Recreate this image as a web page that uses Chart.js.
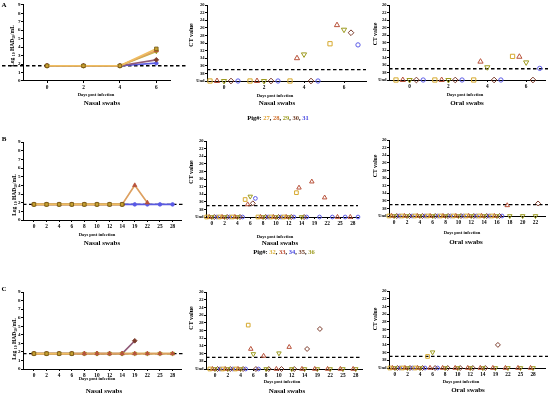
<!DOCTYPE html>
<html><head><meta charset="utf-8">
<script src="https://cdn.jsdelivr.net/npm/chart.js@4.4.1/dist/chart.umd.min.js"></script>
<style>
html,body{margin:0;padding:0;background:#fff;}
#wrap{position:relative;width:550px;height:397px;overflow:hidden;font-family:"Liberation Serif","Times New Roman",serif;}
#wrap canvas{position:absolute;left:0;top:0;}
.t{position:absolute;font-weight:bold;white-space:nowrap;color:#000;transform:translate(-50%,-50%);line-height:1;}
.r{transform:translate(-50%,-50%) rotate(-90deg);}
sub{font-size:70%;vertical-align:-0.25em;}
</style></head><body><div id="wrap"></div>
<script>
// ================= DATA =================
const UND = 40;          // CT "Und" (undetected), plotted at the bottom of the CT axis
const HAD_LOD = 1.8;     // detection limit, log10 HAD50/mL
const CT_CUTOFF = 37;    // CT positivity cut-off

const hadTicks = [0,1,2,3,4,5,6,7,8,9];
const ctTicks  = [20,22,24,26,28,30,32,34,36,38,40];
const ctTickLabels = ['20','22','24','26','28','30','32','34','36','38','Und'];

// ---- Panel A (pigs 27-31) ----
const daysA = [0,2,4,6];
const pigsA = ['27','28','29','30','31'];
const hadA27 = [1.8,1.8,1.8,3.8];
const hadA28 = [1.8,1.8,1.8,3.6];
const hadA29 = [1.8,1.8,1.8,3.5];
const hadA30 = [1.8,1.8,1.8,2.5];
const hadA31 = [1.8,1.8,1.8,2.1];
const ctNasalA27 = [UND,UND,UND,30.2];
const ctNasalA28 = [UND,UND,34.0,25.3];
const ctNasalA29 = [UND,UND,33.0,26.5];
const ctNasalA30 = [UND,UND,UND,27.3];
const ctNasalA31 = [UND,UND,UND,30.5];
const ctOralA27 = [UND,UND,UND,33.7];
const ctOralA28 = [UND,UND,35.1,33.8];
const ctOralA29 = [UND,UND,36.6,35.3];
const ctOralA30 = [UND,UND,UND,UND];
const ctOralA31 = [UND,UND,UND,36.9];

// ---- Panel B (pigs 32-36) ----
const daysB  = ['0','2','4','6','8','10','12','14','19','22','25','28'];
const daysBo = ['0','2','4','6','8','10','12','14','16','18','20','22'];
const pigsB = ['32','33','34','35','36'];
const hadB32 = [1.8,1.8,1.8,1.8,1.8,1.8,1.8,1.8,null,null,null,null];
const hadB33 = [1.8,1.8,1.8,1.8,1.8,1.8,1.8,1.8,4.0,2.0,null,null];
const hadB36 = [1.8,1.8,1.8,1.8,1.8,1.8,1.8,1.8,null,null,null,null];
const hadB35 = [1.8,1.8,1.8,1.8,1.8,1.8,1.8,1.8,null,null,null,null];
const hadB34 = [1.8,1.8,1.8,1.8,1.8,1.8,1.8,1.8,1.8,1.8,1.8,1.8];
const ctNasalB32 = [UND,UND,UND,35.4,UND,UND,UND,33.6,null,null,null,null];
const ctNasalB33 = [UND,UND,UND,36.7,UND,UND,UND,32.3,30.7,34.9,UND,UND];
const ctNasalB36 = [UND,UND,UND,34.6,UND,UND,UND,UND,null,null,null,null];
const ctNasalB35 = [UND,UND,UND,36.4,UND,UND,UND,UND,null,null,null,null];
const ctNasalB34 = [UND,UND,UND,35.1,UND,UND,UND,UND,UND,UND,UND,UND];
const ctOralB32 = [UND,UND,UND,UND,UND,UND,UND,UND,UND,null,null,null];
const ctOralB33 = [UND,UND,UND,UND,UND,UND,UND,UND,UND,37.2,null,null];
const ctOralB36 = [UND,UND,UND,UND,UND,UND,UND,UND,UND,UND,UND,UND];
const ctOralB35 = [UND,UND,UND,UND,UND,UND,UND,UND,UND,null,null,36.7];
const ctOralB34 = [UND,UND,UND,UND,UND,UND,UND,UND,UND,null,null,null];

// ---- Panel C ----
const daysC = ['0','2','4','6','8','10','12','14','19','22','25','28'];
const hadC1 = [1.8,1.8,1.8,1.8,null,null,null,null,null,null,null,null];
const hadC2 = [1.8,1.8,1.8,1.8,1.8,1.8,1.8,1.8,1.8,1.8,1.8,1.8];
const hadC3 = [1.8,1.8,1.8,1.8,1.8,1.8,1.8,1.8,1.8,1.8,1.8,1.8];
const hadC4 = [1.8,1.8,1.8,1.8,1.8,1.8,1.8,1.8,3.3,null,null,null];
const hadC5 = [1.8,1.8,1.8,1.8,null,null,null,null,null,null,null,null];
const ctNasalC1 = [UND,UND,UND,28.6,null,null,null,null,null,null,null,null];
const ctNasalC2 = [UND,UND,UND,34.8,36.6,UND,34.3,UND,UND,UND,UND,UND];
const ctNasalC3 = [UND,UND,UND,36.1,UND,35.9,UND,UND,UND,UND,UND,UND];
const ctNasalC4 = [UND,UND,UND,UND,UND,UND,UND,34.8,29.6,null,null,null];
const ctNasalC5 = [UND,UND,UND,UND,null,null,null,null,null,null,null,null];
const ctOralC1 = [UND,UND,UND,37.0,null,null,null,null,null,null,null,null];
const ctOralC2 = [UND,UND,UND,UND,UND,UND,UND,UND,UND,UND,UND,UND];
const ctOralC3 = [UND,UND,UND,35.9,UND,UND,UND,UND,UND,UND,UND,UND];
const ctOralC4 = [UND,UND,UND,UND,UND,UND,UND,UND,34.0,null,null,null];
const ctOralC5 = [UND,UND,UND,UND,null,null,null,null,null,null,null,null];

// ================= STYLE =================
const MARK = [
  {style:'rect',     rot:0,   color:'#D6A92E', f:1},
  {style:'triangle', rot:0,   color:'#B8523A', f:1},
  {style:'triangle', rot:180, color:'#9C9A1E', f:1},
  {style:'rectRot',  rot:0,   color:'#7B3B2B', f:0.95},
  {style:'circle',   rot:0,   color:'#5A5AE6', f:0.72}
];
const LINE_COLORS = ['#F0BE62','#DDA060','#C4B446','#905A78','#5A5AE0'];
const OFF_A  = [-0.7,-0.35,0,0.35,0.7];   // jitter (days) in panel A CT plots
const OFF_BC = [-0.4,-0.2,0,0.2,0.4];     // jitter (category) in B/C CT plots
const FONT = '"Liberation Serif", "Times New Roman", serif';

const idx12 = [0,1,2,3,4,5,6,7,8,9,10,11];

function hadSets(xs, series){
  return series.map((vals,k)=>({
    data: vals.map((v,i)=>({x:xs[i], y:v})),
    borderColor: LINE_COLORS[k], borderWidth: 1.7, tension:0, spanGaps:false,
    pointStyle: MARK[k].style, pointRotation: MARK[k].rot, pointRadius: 2.5*MARK[k].f,
    pointBorderColor: k===0 ? '#6E5412' : MARK[k].color,
    pointBackgroundColor: k===0 ? '#C9A232' : MARK[k].color,
    pointBorderWidth: 0.8, clip:false
  }));
}
function ctSets(xs, series, offs, r){
  return series.map((vals,k)=>({
    data: vals.map((v,i)=> v==null ? null : {x: xs[i]+offs[k], y: v}).filter(p=>p),
    showLine:false, pointStyle: MARK[k].style, pointRotation: MARK[k].rot,
    pointRadius: r*MARK[k].f, pointBorderWidth: 1,
    borderColor: MARK[k].color, pointBorderColor: MARK[k].color,
    backgroundColor:'rgba(255,255,255,0)', pointBackgroundColor:'rgba(255,255,255,0)', clip:false
  }));
}

const lodPlugin = {
  id:'lod',
  beforeDatasetsDraw(chart, args, o){
    if(!o || o.value == null) return;
    const y = chart.scales.y.getPixelForValue(o.value);
    const ctx = chart.ctx;
    ctx.save(); ctx.setLineDash([3.5,2.5]); ctx.lineWidth = 1.3; ctx.strokeStyle = '#000';
    ctx.beginPath(); ctx.moveTo(o.x1, y); ctx.lineTo(o.x2, y); ctx.stroke(); ctx.restore();
  }
};

const wrap = document.getElementById('wrap');
const YW = 22, XH = 12;
function panel(p){
  const c = document.createElement('canvas'); c.width = 550; c.height = 397; wrap.appendChild(c);
  const tf = {family:FONT, size:5.3, weight:'bold'};
  const gridOpt = {drawOnChartArea:false, drawTicks:true, tickLength:2, color:'#000', lineWidth:1};
  new Chart(c, {
    type: p.type,
    data: {datasets: p.datasets},
    options: {
      responsive:false, animation:false, events:[],
      layout:{padding:{left:p.area.l-YW, right:550-p.area.r, top:p.area.t, bottom:397-p.area.b-XH}},
      plugins:{legend:{display:false}, tooltip:{enabled:false}, lod:{value:p.lod, x1:p.lodX[0], x2:p.lodX[1]}},
      scales:{
        x:{type:'linear', min:p.x.min, max:p.x.max,
          afterBuildTicks: s=>{ s.ticks = p.x.ticks.map(v=>({value:v})); },
          afterFit: s=>{ s.height = XH; },
          ticks:{autoSkip:false, maxRotation:0, padding:1.5, color:'#000', font:tf, callback:(v,i)=>p.x.labels[i]},
          grid:gridOpt, border:{display:true, color:'#000', width:1}},
        y:{type:'linear', min:p.y.min, max:p.y.max, reverse:!!p.y.reverse,
          afterBuildTicks: s=>{ s.ticks = p.y.ticks.map(v=>({value:v})); },
          afterFit: s=>{ s.width = YW; },
          ticks:{autoSkip:false, padding:0.5, color:'#000', font:{family:FONT, size:p.y.fs, weight:'bold'}, callback:(v,i)=>p.y.labels[i]},
          grid:gridOpt, border:{display:true, color:'#000', width:1}}
      }
    },
    plugins:[lodPlugin]
  });
}

const hadY = {min:0, max:9, ticks:hadTicks, labels:hadTicks.map(String), fs:5};
const ctY  = {min:20, max:40, reverse:true, ticks:ctTicks, labels:ctTickLabels, fs:4.5};

// ---- A ----
panel({type:'line', area:{l:23,r:170,t:3,b:81}, lod:HAD_LOD, lodX:[2,188],
  x:{min:-1.32, max:6.75, ticks:daysA, labels:daysA.map(String)}, y:hadY,
  datasets: hadSets(daysA, [hadA27,hadA28,hadA29,hadA30,hadA31])});
panel({type:'scatter', area:{l:207,r:366,t:4,b:81}, lod:CT_CUTOFF, lodX:[207,366],
  x:{min:-0.85, max:7.1, ticks:daysA, labels:daysA.map(String)}, y:ctY,
  datasets: ctSets(daysA, [ctNasalA27,ctNasalA28,ctNasalA29,ctNasalA30,ctNasalA31], OFF_A, 3)});
panel({type:'scatter', area:{l:389,r:548,t:4,b:80}, lod:CT_CUTOFF, lodX:[389,548],
  x:{min:-1.06, max:6.97, ticks:daysA, labels:daysA.map(String)}, y:ctY,
  datasets: ctSets(daysA, [ctOralA27,ctOralA28,ctOralA29,ctOralA30,ctOralA31], OFF_A, 3)});

// ---- B ----
panel({type:'line', area:{l:23,r:181,t:142,b:220}, lod:HAD_LOD, lodX:[23,183],
  x:{min:-0.87, max:11.67, ticks:idx12, labels:daysB}, y:hadY,
  datasets: hadSets(idx12, [hadB32,hadB33,hadB36,hadB35,hadB34])});
panel({type:'scatter', area:{l:206,r:358,t:141,b:217}, lod:CT_CUTOFF, lodX:[206,358],
  x:{min:-0.45, max:11.4, ticks:idx12, labels:daysB}, y:ctY,
  datasets: ctSets(idx12, [ctNasalB32,ctNasalB33,ctNasalB36,ctNasalB35,ctNasalB34], OFF_BC, 2.6)});
panel({type:'scatter', area:{l:389,r:548,t:140,b:216}, lod:CT_CUTOFF, lodX:[389,548],
  x:{min:-0.4, max:11.74, ticks:idx12, labels:daysBo}, y:ctY,
  datasets: ctSets(idx12, [ctOralB32,ctOralB33,ctOralB36,ctOralB35,ctOralB34], OFF_BC, 2.6)});

// ---- C ----
panel({type:'line', area:{l:23,r:181,t:292,b:369}, lod:HAD_LOD, lodX:[23,183],
  x:{min:-0.87, max:11.67, ticks:idx12, labels:daysC}, y:hadY,
  datasets: hadSets(idx12, [hadC1,hadC2,hadC3,hadC4,hadC5])});
panel({type:'scatter', area:{l:206,r:362,t:292,b:369}, lod:CT_CUTOFF, lodX:[206,362],
  x:{min:-0.7, max:11.49, ticks:idx12, labels:daysC}, y:ctY,
  datasets: ctSets(idx12, [ctNasalC1,ctNasalC2,ctNasalC3,ctNasalC4,ctNasalC5], OFF_BC, 2.6)});
panel({type:'scatter', area:{l:389,r:548,t:291,b:368}, lod:CT_CUTOFF, lodX:[389,548],
  x:{min:-0.47, max:11.95, ticks:idx12, labels:daysC}, y:ctY,
  datasets: ctSets(idx12, [ctOralC1,ctOralC2,ctOralC3,ctOralC4,ctOralC5], OFF_BC, 2.6)});

// ================= TEXT =================
function txt(html, x, y, size, rot){
  const d = document.createElement('div');
  d.className = 't' + (rot ? ' r' : '');
  d.style.left = x + 'px'; d.style.top = y + 'px'; d.style.fontSize = size + 'px';
  d.innerHTML = html; wrap.appendChild(d);
}
txt('A', 4, 5, 7); txt('B', 4, 139, 7); txt('C', 4, 289, 7);
const hadTitle = 'Log <sub>10</sub> HAD<sub>50</sub>/mL';
txt(hadTitle, 13, 46, 5.5, true); txt(hadTitle, 15, 195, 5.5, true); txt(hadTitle, 15, 339, 5.5, true);
txt('CT value', 191, 35, 6, true); txt('CT value', 376, 34, 5.8, true);
txt('CT value', 191, 172, 6, true); txt('CT value', 376, 166, 5.8, true);
txt('CT value', 191, 318, 6, true); txt('CT value', 376, 319, 5.8, true);
const dpi = 'Days post infection';
[[96,95],[275,96],[465,95],[97,235],[275,237],[462,233],[97,379],[282,382],[461,382]].forEach(p=>txt(dpi,p[0],p[1],4.5));
txt('Nasal swabs',102,103,7); txt('Nasal swabs',277,103,7); txt('Oral swabs',467,103,7);
txt('Nasal swabs',102,243,7); txt('Nasal swabs',280,243,7); txt('Oral swabs',466,242,7);
txt('Nasal swabs',104,391,7); txt('Nasal swabs',287,391,7); txt('Oral swabs',468,390,7);
const legA = {'27':'#E2A436','28':'#D0702E','29':'#9C9A1E','30':'#6E3A22','31':'#4545E0'};
const legB = {'32':'#D9AE3A','33':'#B8452A','34':'#4545E0','35':'#6E3A22','36':'#9C9A1E'};
function legendHtml(pigs, cols){
  return 'Pig#: ' + pigs.map(p=>'<span style="color:'+cols[p]+'">'+p+'</span>').join(', ');
}
txt(legendHtml(pigsA, legA), 278, 118, 6.5);
txt(legendHtml(pigsB, legB), 284, 252, 6.5);
</script></body></html>
